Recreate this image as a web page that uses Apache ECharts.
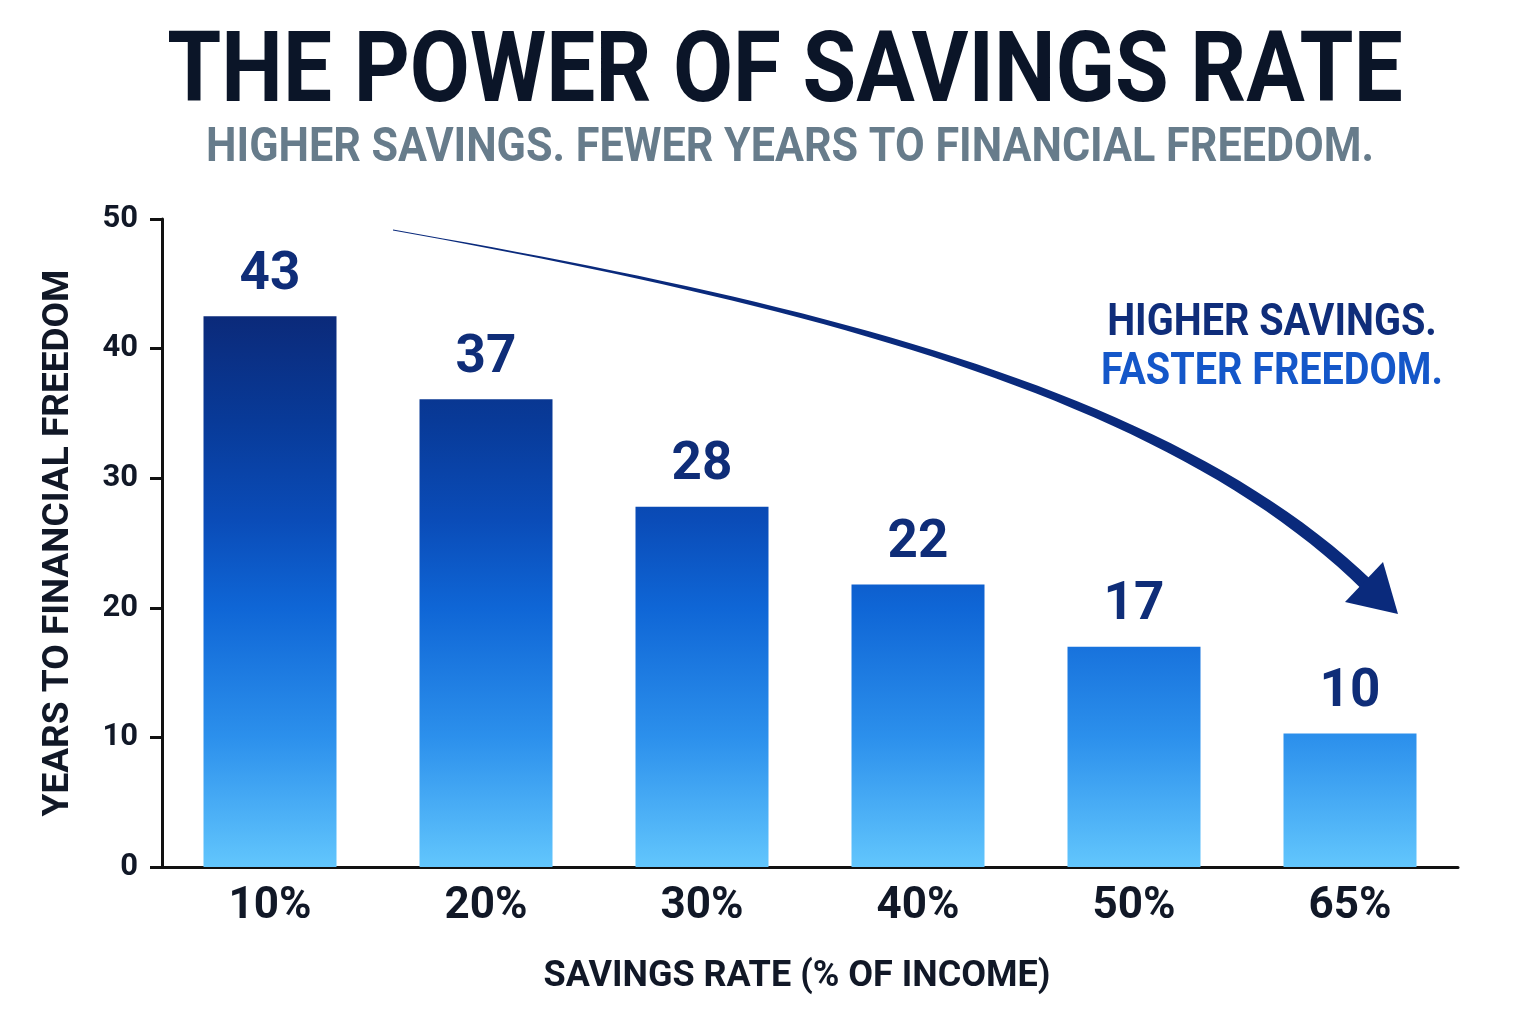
<!DOCTYPE html>
<html>
<head>
<meta charset="utf-8">
<title>The Power of Savings Rate</title>
<script src="https://cdn.jsdelivr.net/npm/echarts@6/dist/echarts.min.js"></script>
<style>
  html, body { margin: 0; padding: 0; background: #ffffff; }
  #chart { width: 1536px; height: 1024px; }
</style>
</head>
<body>
<div id="chart"></div>
<script>
// data
const categories = ['10%', '20%', '30%', '40%', '50%', '65%']
const yearsToFreedom = [42.5, 36.1, 27.8, 21.8, 17.0, 10.3]
const valueLabels = ['43', '37', '28', '22', '17', '10']
const yMin = 0
const yMax = 50
const yStep = 10

const FONT = 'Roboto, "Noto Sans", sans-serif'
const INK = '#111827'
const NAVY = '#0f2d78'

// curved arrow, thin at the start and thick near the head
function arrowShaft() {
  const p0 = [393, 230], p1 = [793, 301], p2 = [1165, 388], p3 = [1368, 586]
  const n = 48
  const left = [], right = []
  for (let i = 0; i <= n; i++) {
    const t = i / n, u = 1 - t
    const x = u*u*u*p0[0] + 3*u*u*t*p1[0] + 3*u*t*t*p2[0] + t*t*t*p3[0]
    const y = u*u*u*p0[1] + 3*u*u*t*p1[1] + 3*u*t*t*p2[1] + t*t*t*p3[1]
    const dx = 3*u*u*(p1[0]-p0[0]) + 6*u*t*(p2[0]-p1[0]) + 3*t*t*(p3[0]-p2[0])
    const dy = 3*u*u*(p1[1]-p0[1]) + 6*u*t*(p2[1]-p1[1]) + 3*t*t*(p3[1]-p2[1])
    const len = Math.sqrt(dx*dx + dy*dy)
    const nx = -dy / len, ny = dx / len
    const w = (0.8 + 12.5 * Math.pow(t, 1.1)) / 2
    left.push([x + nx*w, y + ny*w])
    right.unshift([x - nx*w, y - ny*w])
  }
  return left.concat(right)
}

const chart = echarts.init(document.getElementById('chart'))

const option = {
  backgroundColor: '#ffffff',
  animation: false,
  grid: { left: 162, right: 78, top: 219, bottom: 157 },
  xAxis: {
    type: 'category',
    data: categories,
    axisLine: { lineStyle: { color: '#111', width: 3 } },
    axisTick: { show: false },
    axisLabel: { fontFamily: FONT, fontWeight: 'bold', fontSize: 44, color: INK, margin: 18 },
    name: 'SAVINGS RATE (% OF INCOME)',
    nameLocation: 'middle',
    nameGap: 92,
    nameTextStyle: { fontFamily: FONT, fontWeight: 'bold', fontSize: 36, color: INK, padding: [0, 26, 0, 0] }
  },
  yAxis: {
    type: 'value',
    min: yMin,
    max: yMax,
    interval: yStep,
    axisLine: { show: true, lineStyle: { color: '#111', width: 3 } },
    axisTick: { show: true, length: 12, lineStyle: { color: '#111', width: 3 } },
    splitLine: { show: false },
    axisLabel: { fontFamily: FONT, fontWeight: 'bold', fontSize: 31, color: INK, margin: 24 },
    name: 'YEARS TO FINANCIAL FREEDOM',
    nameLocation: 'middle',
    nameGap: 85,
    nameTextStyle: { fontFamily: FONT, fontWeight: 'bold', fontSize: 37, color: INK }
  },
  series: [{
    type: 'bar',
    data: yearsToFreedom,
    barWidth: 133,
    itemStyle: {
      color: {
        type: 'linear', x: 0, y: 219, x2: 0, y2: 867, global: true,
        colorStops: [
          { offset: 0, color: '#0a2470' },
          { offset: 0.15, color: '#0b2a7a' },
          { offset: 0.31, color: '#083a98' },
          { offset: 0.465, color: '#0a4cb8' },
          { offset: 0.6, color: '#0f66d6' },
          { offset: 0.8, color: '#2c90ec' },
          { offset: 1, color: '#62c6fd' }
        ]
      }
    },
    label: {
      show: true,
      position: 'top',
      distance: 14,
      fontFamily: FONT,
      fontWeight: 'bold',
      fontSize: 53,
      color: NAVY,
      formatter: p => valueLabels[p.dataIndex]
    }
  }],
  graphic: [
    {
      type: 'text', x: 785, y: 76, scaleX: 0.89,
      style: { text: 'THE POWER OF SAVINGS RATE', x: 0, y: 0, textAlign: 'center', textVerticalAlign: 'middle',
        font: 'bold 98px ' + FONT, fill: '#0b1528' }
    },
    {
      type: 'text', x: 790, y: 149, scaleX: 0.88,
      style: { text: 'HIGHER SAVINGS. FEWER YEARS TO FINANCIAL FREEDOM.', x: 0, y: 0, textAlign: 'center', textVerticalAlign: 'middle',
        font: 'bold 49px ' + FONT, fill: '#677c8b' }
    },
    {
      type: 'text', x: 1272, y: 324, scaleX: 0.88,
      style: { text: 'HIGHER SAVINGS.', x: 0, y: 0, textAlign: 'center', textVerticalAlign: 'middle',
        font: 'bold 45px ' + FONT, fill: '#0f2d7a' }
    },
    {
      type: 'text', x: 1272, y: 373, scaleX: 0.88,
      style: { text: 'FASTER FREEDOM.', x: 0, y: 0, textAlign: 'center', textVerticalAlign: 'middle',
        font: 'bold 45px ' + FONT, fill: '#1457c9' }
    },
    {
      type: 'polygon',
      shape: { points: arrowShaft() },
      style: { fill: '#0a2a7c' }
    },
    {
      type: 'polygon',
      shape: { points: [[1345, 602], [1383, 562], [1398, 614]] },
      style: { fill: '#0a2a7c' }
    }
  ]
}

chart.setOption(option)
</script>
</body>
</html>
